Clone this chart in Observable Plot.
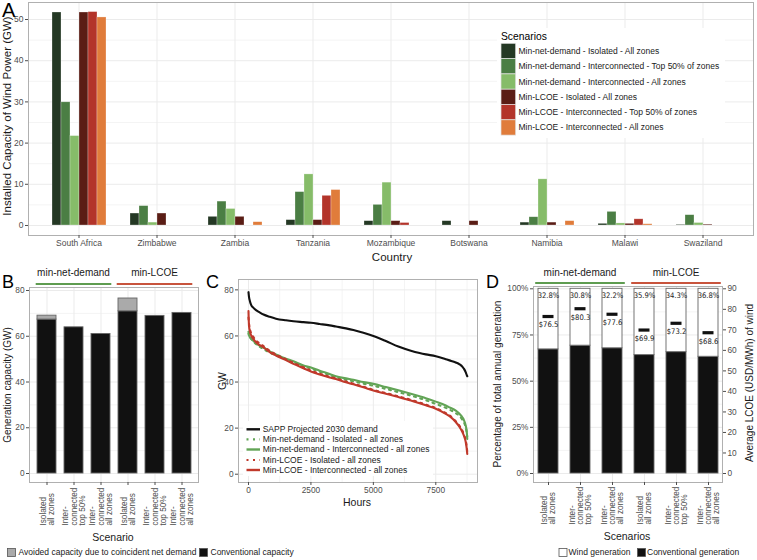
<!DOCTYPE html>
<html><head><meta charset="utf-8">
<script src="https://cdn.jsdelivr.net/npm/d3@7"></script>
<script src="https://cdn.jsdelivr.net/npm/@observablehq/plot@0.6"></script>
<style>
html,body{margin:0;padding:0;background:#fff;}
#root{position:relative;width:757px;height:560px;overflow:hidden;background:#fff;}
</style></head><body><div id="root"></div>
<script>
// ---------------- DATA ----------------
// Panel A: installed wind capacity (GW) per country, one array per scenario
const countries = ["South Africa","Zimbabwe","Zambia","Tanzania","Mozambique","Botswana","Namibia","Malawi","Swaziland"];
const scenariosA = [
  "Min-net-demand - Isolated - All zones",
  "Min-net-demand - Interconnected - Top 50% of zones",
  "Min-net-demand - Interconnected - All zones",
  "Min-LCOE - Isolated - All zones",
  "Min-LCOE - Interconnected - Top 50% of zones",
  "Min-LCOE - Interconnected - All zones"
];
const scenarioColors = ["#243824","#4b7e44","#86bc69","#5a1d15","#b3342a","#e07c3b"];
const capNetIsoAll  = [51.7, 2.9, 2.1, 1.3, 1.05, 1.05, 0.7, 0.4, 0.15];
const capNetIntTop  = [29.9, 4.7, 5.8, 8.1, 5.0, 0, 2.0, 3.3, 2.5];
const capNetIntAll  = [21.7, 0.7, 4.0, 12.4, 10.4, 0, 11.2, 0.5, 0.6];
const capLcoeIsoAll = [51.7, 2.9, 2.1, 1.3, 1.05, 1.05, 0.7, 0.4, 0.2];
const capLcoeIntTop = [51.8, 0, 0, 7.2, 0.6, 0, 0, 1.5, 0];
const capLcoeIntAll = [50.5, 0, 0.8, 8.6, 0, 0, 1.05, 0.3, 0];

// Panels B and D: scenarios
const scenarioIds = ["nd-iso-all","nd-int-top","nd-int-all","lc-iso-all","lc-int-top","lc-int-all"];
const scenarioTickLabels = ["Isolated\nall zones","Inter-\nconnected\ntop 50%","Inter-\nconnected\nall zones","Isolated\nall zones","Inter-\nconnected\ntop 50%","Inter-\nconnected\nall zones"];
const groupLabels = ["min-net-demand","min-LCOE"];

// Panel B: generation capacity (GW)
const conventionalCapacity = [67.3, 63.9, 61.0, 70.9, 68.9, 70.2];
const avoidedCapacity      = [1.7, 0, 0, 5.6, 0, 0];

// Panel C: load duration curves (GW) by hour of year
const hours = [0,20,60,110,200,300,450,600,850,1100,1500,1800,2200,2500,2850,3250,3500,3900,4200,4600,5000,5500,6000,6500,6850,7100,7500,7900,8050,8300,8450,8570,8630,8700,8740,8760];
const demandSAPP2030 = [79.0,77.0,75.0,73.4,72.2,71.2,70.2,69.3,68.3,67.5,66.8,66.4,66.0,65.7,65.2,64.6,64.1,63.3,62.6,61.4,60.0,57.8,55.4,53.6,52.6,52.0,51.2,49.9,49.4,48.5,47.7,46.6,45.7,44.2,43.0,42.5];
const netDemandIsolated = [61.8,60.8,59.7,58.8,57.6,56.5,55.3,54.3,52.8,51.6,49.9,48.7,47.0,45.9,44.5,43.0,42.0,41.0,40.3,39.3,38.4,37.0,35.6,34.1,33.0,32.1,30.5,28.8,28.0,26.5,25.2,23.5,22.4,20.3,18.0,16.5];
const netDemandInterconnected = [60.9,60.2,59.4,58.7,57.8,56.9,55.8,55.0,53.3,52.0,50.1,49.0,47.2,46.3,44.9,43.5,42.5,41.6,41.0,40.0,39.2,37.8,36.4,34.9,33.8,33.0,31.5,29.8,29.0,27.6,26.2,24.6,23.4,21.0,18.5,15.3];
const lcoeIsolated = [68.0,65.5,62.8,61.2,59.5,58.1,56.7,55.6,53.6,52.0,49.9,48.3,46.4,45.0,43.6,42.3,41.6,40.2,39.3,38.0,36.6,35.2,33.8,32.3,31.1,30.2,28.7,26.5,25.5,23.0,21.0,18.8,17.2,14.5,11.8,9.5];
const lcoeInterconnected = [70.8,64.5,61.8,60.2,58.6,57.3,56.0,55.0,53.0,51.5,49.5,47.9,46.0,44.6,43.3,42.0,41.3,39.9,39.0,37.7,36.3,34.9,33.5,32.0,30.8,29.9,28.4,26.2,25.2,22.6,20.5,18.2,16.6,13.9,11.0,8.8];
const curveNames = ["SAPP Projected 2030 demand","Min-net-demand - Isolated - all zones","Min-net-demand - Interconnected - all zones","Min-LCOE - Isolated - all zones","Min-LCOE - Interconnected - all zones"];
const curveColors = ["#111111","#62a456","#62a456","#c0392b","#c0392b"];

// Panel D: share of wind generation (%) and average LCOE of wind (USD/MWh)
const windShare = [32.8, 30.8, 32.2, 35.9, 34.3, 36.8];
const lcoeWind  = [76.5, 80.3, 77.6, 69.9, 73.2, 68.6];
const pctTicks  = [0, 25, 50, 75, 100];
const lcoeTicks = [0,10,20,30,40,50,60,70,80,90];

// ---------------- HELPERS ----------------
const FONT = '"Liberation Sans", Arial, Helvetica, sans-serif';
const NARROW = '"Liberation Sans Narrow", "DejaVu Sans Condensed", "Liberation Sans", sans-serif';
const GRID = "#ebebeb", MINOR = "#f4f4f4", BORDER = "#b0b0b0";
const root = document.getElementById("root");
function place(el, left, top) {
  el.style.position = "absolute"; el.style.left = left + "px"; el.style.top = top + "px";
  root.appendChild(el); return el;
}
const baseStyle = {fontFamily: FONT, fontSize: "8.3px", color: "#4d4d4d", background: "transparent", overflow: "visible"};

// ---------------- PANEL A ----------------
const seriesA = [capNetIsoAll, capNetIntTop, capNetIntAll, capLcoeIsoAll, capLcoeIntTop, capLcoeIntAll];
const dataA = scenariosA.flatMap((s, k) => countries.map((c, i) => ({country: c, scenario: s, value: seriesA[k][i]}))).filter(d => d.value > 0);
const yDomA = [-2.43, 54.13];
const marginsA = {width: 757, height: 262, marginLeft: 28, marginRight: 4, marginTop: 2, marginBottom: 27};

const plotAbg = Plot.plot({
  ...marginsA, style: {...baseStyle, fontSize: "8.5px"},
  x: {type: "band", domain: countries, paddingInner: 0.25, paddingOuter: 0.225},
  y: {domain: yDomA},
  marks: [
    Plot.gridY([5,15,25,35,45], {stroke: MINOR, strokeOpacity: 1}),
    Plot.gridY([0,10,20,30,40,50], {stroke: GRID, strokeOpacity: 1}),
    Plot.gridX({stroke: GRID, strokeOpacity: 1}),
    Plot.frame({stroke: BORDER}),
    Plot.axisX({tickSize: 3, tickPadding: 1.5, label: null}),
    Plot.axisY([0,10,20,30,40,50], {tickSize: 3, tickPadding: 2, label: null})
  ]
});
place(plotAbg, 0, 0);

const plotA = Plot.plot({
  ...marginsA, style: baseStyle,
  fx: {domain: countries, paddingInner: 0.25, paddingOuter: 0.225, axis: null, label: null},
  x: {domain: scenariosA, padding: 0, axis: null},
  y: {domain: yDomA, axis: null},
  color: {domain: scenariosA, range: scenarioColors},
  marks: [
    Plot.barY(dataA, {fx: "country", x: "scenario", y: "value", fill: "scenario", stroke: "#ffffff", strokeOpacity: 0.45, strokeWidth: 0.6})
  ]
});
place(plotA, 0, 0);

// ---------------- PANEL B ----------------
const dataB = scenarioIds.flatMap((id, i) => [
  {id, type: "Conventional capacity", value: conventionalCapacity[i]},
  {id, type: "Avoided capacity due to coincident net demand", value: avoidedCapacity[i]}
]);
const plotB = Plot.plot({
  width: 205, height: 283, marginLeft: 29, marginRight: 7, marginTop: 25, marginBottom: 63,
  style: baseStyle,
  x: {domain: scenarioIds, paddingInner: 0.3, paddingOuter: 0.25},
  y: {domain: [-3.93, 81.31]},
  color: {domain: ["Avoided capacity due to coincident net demand","Conventional capacity"], range: ["#aaaaaa","#111111"]},
  marks: [
    Plot.gridY([10,30,50,70], {stroke: MINOR, strokeOpacity: 1}),
    Plot.gridY([0,20,40,60,80], {stroke: GRID, strokeOpacity: 1}),
    Plot.gridX({stroke: GRID, strokeOpacity: 1}),
    Plot.frame({stroke: BORDER}),
    Plot.axisX({tickSize: 3, tickFormat: () => "", label: null}),
    Plot.axisY([0,20,40,60,80], {tickSize: 3, tickPadding: 2, label: null}),
    Plot.barY(dataB, {x: "id", y: "value", fill: "type", stroke: "#666", strokeWidth: 0.9}),
    Plot.text(scenarioIds, {x: d => d, text: (d, i) => scenarioTickLabels[i], frameAnchor: "bottom", dy: 43,
      rotate: -90, textAnchor: "start", lineAnchor: "middle", lineHeight: 1, fontSize: 8.2, fill: "#4d4d4d"})
  ]
});
place(plotB, 0, 262);

// ---------------- PANEL C ----------------
const curveSeries = [demandSAPP2030, netDemandIsolated, netDemandInterconnected, lcoeIsolated, lcoeInterconnected];
const curveDash = [null, "2,4.5", null, "2,4.5", null];
const rowsC = curveSeries.map(arr => hours.map((h, i) => ({hour: h, gw: arr[i]})));
const plotC = Plot.plot({
  width: 280, height: 283, marginLeft: 33, marginRight: 8, marginTop: 17, marginBottom: 63,
  style: baseStyle,
  x: {domain: [-400, 9170]},
  y: {domain: [-3.6, 84.5]},
  marks: [
    Plot.gridX([1250,3750,6250,8750], {stroke: MINOR, strokeOpacity: 1}),
    Plot.gridY([10,30,50,70], {stroke: MINOR, strokeOpacity: 1}),
    Plot.gridX([0,2500,5000,7500], {stroke: GRID, strokeOpacity: 1}),
    Plot.gridY([0,20,40,60,80], {stroke: GRID, strokeOpacity: 1}),
    Plot.frame({stroke: BORDER}),
    Plot.axisX([0,2500,5000,7500], {tickSize: 3, tickPadding: 2, tickFormat: d => String(d), label: null}),
    Plot.axisY([0,20,40,60,80], {tickSize: 3, tickPadding: 2, label: null}),
    ...rowsC.map((rows, k) => Plot.line(rows, {x: "hour", y: "gw", stroke: curveColors[k], strokeWidth: 2.1,
      curve: "monotone-x", strokeDasharray: curveDash[k] || undefined}))
  ]
});
place(plotC, 205, 262);

// ---------------- PANEL D ----------------
const dataD = scenarioIds.flatMap((id, i) => [
  {id, type: "Conventional generation", value: 100 - windShare[i]},
  {id, type: "Wind generation", value: windShare[i]}
]);
const statsD = scenarioIds.map((id, i) => ({id, wind: windShare[i], lcoe: lcoeWind[i]}));
const plotD = Plot.plot({
  width: 272, height: 283, marginLeft: 48, marginRight: 35, marginTop: 24, marginBottom: 63,
  style: baseStyle,
  x: {domain: scenarioIds, paddingInner: 0.38, paddingOuter: 0.135},
  y: {domain: [-4.87, 101.25]},
  color: {domain: ["Wind generation","Conventional generation"], range: ["#ffffff","#111111"]},
  marks: [
    Plot.gridY([12.5,37.5,62.5,87.5], {stroke: MINOR, strokeOpacity: 1}),
    Plot.gridY(pctTicks, {stroke: GRID, strokeOpacity: 1}),
    Plot.gridX({stroke: GRID, strokeOpacity: 1}),
    Plot.frame({stroke: BORDER}),
    Plot.axisX({tickSize: 3, tickFormat: () => "", label: null}),
    Plot.axisY(pctTicks, {anchor: "left", tickSize: 3, tickPadding: 2, tickFormat: d => d + "%", label: null}),
    Plot.axisY(lcoeTicks.map(v => v / 0.9), {anchor: "right", tickSize: 3, tickPadding: 2, tickFormat: d => String(Math.round(d * 0.9)), label: null}),
    Plot.barY(dataD, {x: "id", y: "value", fill: "type", stroke: "#666", strokeWidth: 0.9}),
    Plot.text(statsD, {x: "id", y: 100, dy: 7, text: d => d.wind.toFixed(1) + "%", fontFamily: NARROW, fontSize: 7.6, fill: "#222"}),
    Plot.tickY(statsD, {x: "id", y: d => d.lcoe / 0.9, stroke: "#111", strokeWidth: 3.2, insetLeft: 4.5, insetRight: 4.5}),
    Plot.text(statsD, {x: "id", y: d => d.lcoe / 0.9, dy: 8.5, text: d => "$" + d.lcoe.toFixed(1), fontFamily: NARROW, fontSize: 7.6, fill: "#222"}),
    Plot.text(scenarioIds, {x: d => d, text: (d, i) => scenarioTickLabels[i], frameAnchor: "bottom", dy: 42,
      rotate: -90, textAnchor: "start", lineAnchor: "middle", lineHeight: 1, fontSize: 8.2, fill: "#4d4d4d"})
  ]
});
place(plotD, 485, 262);

// ---------------- ANNOTATION LAYER (titles, legends) ----------------
const ov = d3.create("svg").attr("width", 757).attr("height", 560)
  .style("position", "absolute").style("left", "0px").style("top", "0px").style("overflow", "visible")
  .attr("font-family", FONT);
function T(x, y, s, o = {}) {
  const t = ov.append("text").attr("x", x).attr("y", y).text(s)
    .attr("font-size", o.size || 10).attr("text-anchor", o.anchor || "start")
    .attr("fill", o.fill || "#1a1a1a").attr("font-family", o.family || FONT);
  if (o.center) t.attr("dy", "0.35em");
  if (o.rotate) t.attr("transform", `rotate(${o.rotate},${x},${y})`);
  return t;
}
// panel letters
T(2, 17, "A", {size: 20, fill: "#000"});
T(2, 288, "B", {size: 18, fill: "#000"});
T(206, 288, "C", {size: 18, fill: "#000"});
T(486, 288, "D", {size: 18, fill: "#000"});

// axis titles
T(7, 116, "Installed Capacity of Wind Power (GW)", {size: 11.5, anchor: "middle", center: true, rotate: -90});
T(392, 256.5, "Country", {size: 11.5, anchor: "middle", center: true});
T(7.5, 385, "Generation capacity (GW)", {size: 10, anchor: "middle", center: true, rotate: -90});
T(113, 537, "Scenario", {size: 10.5, anchor: "middle", center: true});
T(222, 381, "GW", {size: 10.5, anchor: "middle", center: true, rotate: -90});
T(357, 502.5, "Hours", {size: 10.5, anchor: "middle", center: true});
T(497.5, 384, "Percentage of total annual generation", {size: 10, anchor: "middle", center: true, rotate: -90});
T(749, 383, "Average LCOE (USD/MWh) of wind", {size: 10, anchor: "middle", center: true, rotate: -90});
T(627, 536, "Scenarios", {size: 10.5, anchor: "middle", center: true});

// group bars above B and D
function groups(plot, offX, yLine, yText) {
  const sx = plot.scale("x");
  const bw = sx.bandwidth;
  const step = sx.step || (sx.apply(scenarioIds[5]) - sx.apply(scenarioIds[0])) / 5;
  const c = id => offX + sx.apply(id) + bw / 2;
  const spec = [[0, 2, "#5e9c50"], [3, 5, "#c8543d"]];
  spec.forEach(([a, b, col], g) => {
    const x1 = c(scenarioIds[a]) - 0.4 * step, x2 = c(scenarioIds[b]) + 0.4 * step;
    ov.append("line").attr("x1", x1).attr("x2", x2).attr("y1", yLine).attr("y2", yLine)
      .attr("stroke", col).attr("stroke-width", 2);
    T(c(scenarioIds[a + 1]), yText, groupLabels[g], {size: 10, anchor: "middle", center: true});
  });
}
groups(plotB, 0, 284, 272.5);
groups(plotD, 485, 283, 272.5);

// Panel A legend
ov.append("rect").attr("x", 497).attr("y", 28).attr("width", 228).attr("height", 110).attr("fill", "#fff");
T(501, 39.5, "Scenarios", {size: 10.3, fill: "#000"});
scenariosA.forEach((s, k) => {
  const y0 = 43.3 + k * 15.3;
  ov.append("rect").attr("x", 501).attr("y", y0).attr("width", 14.7).attr("height", 15.3)
    .attr("fill", scenarioColors[k]).attr("stroke", "#e2e2e2").attr("stroke-width", 0.7);
  T(518.5, y0 + 7.65, s, {size: 8.5, center: true, fill: "#1a1a1a"});
});

// Panel C legend
ov.append("rect").attr("x", 243).attr("y", 421).attr("width", 190).attr("height", 55).attr("fill", "#fff");
curveNames.forEach((s, k) => {
  const y = [429.3, 439.3, 449.5, 460, 470][k];
  const ln = ov.append("line").attr("x1", 246.5).attr("x2", 260).attr("y1", y).attr("y2", y)
    .attr("stroke", curveColors[k]).attr("stroke-width", 2.4);
  if (curveDash[k]) ln.attr("stroke-dasharray", curveDash[k]).attr("stroke-width", 2.2);
  T(262.7, y, s, {size: 8.5, center: true, fill: "#1a1a1a"});
});

// Bottom legends
function key(x, y, fill) {
  ov.append("rect").attr("x", x).attr("y", y).attr("width", 8).attr("height", 8)
    .attr("fill", fill).attr("stroke", "#555").attr("stroke-width", 0.8);
}
key(7.5, 548.5, "#aaaaaa");
T(18.5, 552.5, "Avoided capacity due to coincident net demand", {size: 8.5, center: true});
key(199.5, 548.5, "#111111");
T(210.5, 552.5, "Conventional capacity", {size: 8.5, center: true});
key(559, 548.5, "#ffffff");
T(568.5, 552.5, "Wind generation", {size: 8.5, center: true});
key(637.5, 548.5, "#111111");
T(647, 552.5, "Conventional generation", {size: 8.5, center: true});

root.appendChild(ov.node());
</script></body></html>
